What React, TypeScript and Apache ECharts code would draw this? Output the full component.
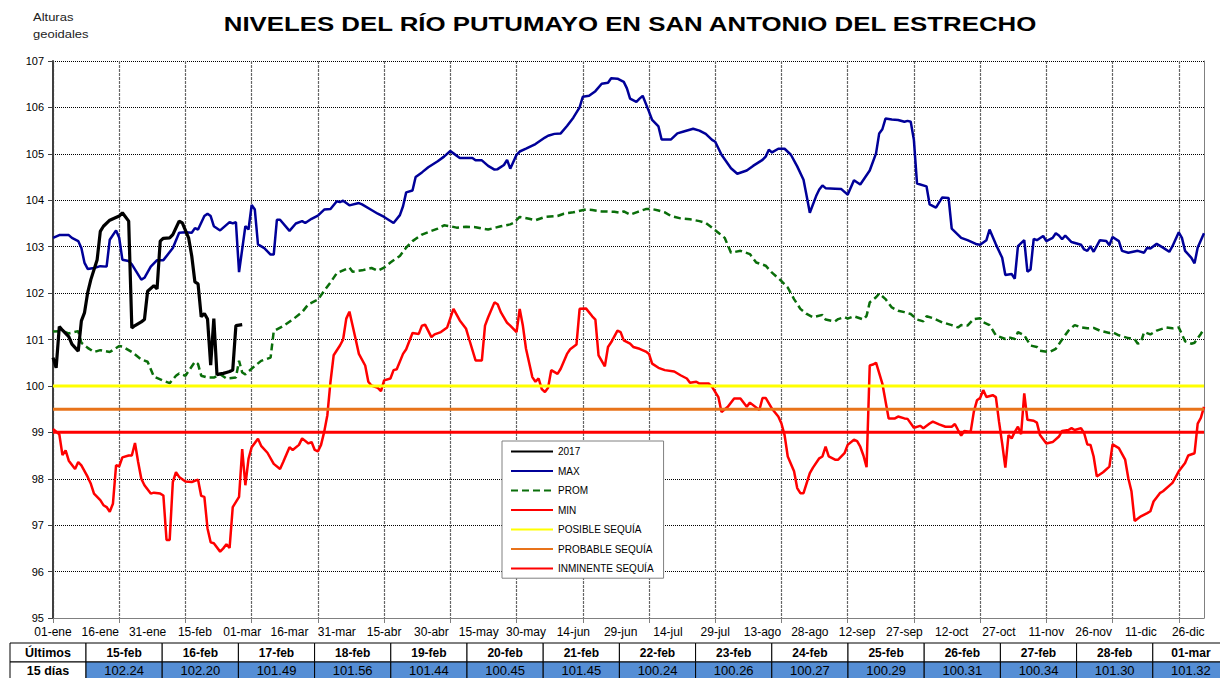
import React, { useEffect, useRef } from "react";
import * as echarts from "echarts";

// ---------- categories (leap-year calendar, one per day) ----------
const MONTHS = ["ene", "feb", "mar", "abr", "may", "jun", "jul", "ago", "sep", "oct", "nov", "dic"];
const MONTH_DAYS = [31, 29, 31, 30, 31, 30, 31, 31, 30, 31, 30, 31];
const DAYS: string[] = MONTHS.flatMap((m, i) =>
  Array.from({ length: MONTH_DAYS[i] }, (_, k) => `${String(k + 1).padStart(2, "0")}-${m}`)
);

// ---------- series: [day index, level] ----------
const S2017: [number, number][] = [
  [0, 100.61], [1, 100.39], [2, 101.28], [3, 101.2], [5, 101.06], [6, 100.9], [8, 100.75], [9, 101.4],
  [10, 101.58], [11, 102.01], [12, 102.29], [14, 102.72], [15, 103.33], [16, 103.44], [18, 103.57],
  [21, 103.66], [22, 103.73], [24, 103.55], [25, 101.25], [26, 101.3], [28, 101.38], [29, 101.43],
  [30, 102.04], [32, 102.16], [33, 102.09], [34, 103.12], [35, 103.18], [37, 103.19], [38, 103.26],
  [40, 103.55], [41, 103.51], [43, 103.19], [44, 102.8], [45, 102.24], [46, 102.2], [47, 101.49],
  [48, 101.56], [49, 101.44], [50, 100.45], [51, 101.45], [52, 100.24], [53, 100.26], [54, 100.27],
  [55, 100.29], [56, 100.31], [57, 100.34], [58, 101.3], [60, 101.32],
];

const MAX: [number, number][] = [
  [0, 103.19], [2, 103.25], [5, 103.25], [6, 103.19], [8, 103.12], [9, 102.97], [10, 102.65], [11, 102.52],
  [13, 102.54], [15, 102.58], [17, 102.57], [18, 103.15], [20, 103.35], [21, 103.19], [22, 102.72],
  [24, 102.69], [25, 102.62], [28, 102.29], [29, 102.33], [31, 102.57], [33, 102.71], [35, 102.71],
  [38, 102.97], [40, 103.3], [42, 103.31], [44, 103.3], [45, 103.4], [46, 103.37], [48, 103.66],
  [49, 103.71], [50, 103.66], [51, 103.44], [53, 103.35], [56, 103.53], [57, 103.5], [58, 103.53],
  [59, 102.45], [61, 103.44], [62, 103.37], [63, 103.9], [64, 103.8], [65, 103.05], [67, 102.97],
  [69, 102.83], [70, 102.83], [71, 103.58], [72, 103.58], [75, 103.34], [77, 103.5], [79, 103.55],
  [80, 103.51], [82, 103.6], [84, 103.67], [86, 103.8], [88, 103.81], [90, 103.98], [91, 103.96],
  [92, 103.99], [94, 103.89], [97, 103.94], [98, 103.91], [101, 103.79], [103, 103.71], [105, 103.64],
  [108, 103.51], [110, 103.68], [111, 103.87], [112, 104.17], [114, 104.21], [115, 104.5], [117, 104.6],
  [119, 104.71], [122, 104.84], [124, 104.94], [126, 105.06], [127, 105.01], [129, 104.91], [131, 104.91],
  [133, 104.91], [134, 104.86], [136, 104.86], [138, 104.74], [140, 104.66], [141, 104.67], [143, 104.76],
  [144, 104.87], [145, 104.68], [147, 104.98], [148, 105.05], [150, 105.11], [153, 105.21], [156, 105.35],
  [157, 105.39], [159, 105.43], [161, 105.44], [163, 105.6], [165, 105.78], [167, 106.0], [168, 106.23],
  [170, 106.25], [172, 106.35], [174, 106.51], [176, 106.53], [177, 106.63], [179, 106.62], [181, 106.55],
  [182, 106.41], [183, 106.19], [185, 106.12], [186, 106.19], [187, 106.25], [189, 105.91], [190, 105.73],
  [192, 105.59], [193, 105.31], [196, 105.31], [198, 105.44], [200, 105.48], [203, 105.54], [205, 105.5],
  [207, 105.43], [209, 105.3], [210, 105.26], [212, 104.98], [215, 104.69], [217, 104.57], [220, 104.64],
  [222, 104.74], [225, 104.87], [226, 104.94], [227, 105.09], [228, 105.03], [230, 105.11], [232, 105.11],
  [234, 104.98], [236, 104.73], [238, 104.44], [239, 104.09], [240, 103.73], [242, 104.09], [243, 104.23],
  [244, 104.32], [245, 104.26], [248, 104.25], [250, 104.24], [252, 104.12], [254, 104.43], [256, 104.34],
  [259, 104.64], [261, 105.01], [262, 105.44], [263, 105.53], [264, 105.76], [266, 105.74], [268, 105.73],
  [270, 105.69], [271, 105.71], [272, 105.69], [273, 105.3], [274, 104.36], [277, 104.3], [278, 103.91],
  [280, 103.84], [282, 104.06], [284, 104.05], [285, 103.39], [288, 103.19], [290, 103.14], [293, 103.05],
  [294, 103.04], [296, 103.14], [297, 103.37], [299, 103.05], [301, 102.76], [302, 102.39], [304, 102.41],
  [305, 102.31], [306, 103.01], [308, 103.14], [309, 102.46], [310, 102.51], [311, 103.17], [312, 103.14],
  [314, 103.23], [315, 103.12], [317, 103.19], [318, 103.29], [319, 103.24], [320, 103.16], [321, 103.24],
  [323, 103.1], [326, 103.04], [327, 102.94], [328, 102.91], [329, 103.01], [330, 102.89], [332, 103.14],
  [334, 103.12], [335, 103.03], [336, 103.21], [338, 103.12], [339, 102.91], [341, 102.87], [344, 102.91],
  [346, 102.87], [347, 102.98], [348, 102.96], [350, 103.06], [352, 102.98], [354, 102.89], [355, 103.01],
  [357, 103.31], [358, 103.19], [359, 102.91], [361, 102.76], [362, 102.64], [363, 102.98], [365, 103.29],
];

const PROM: [number, number][] = [
  [0, 101.17], [3, 101.18], [5, 101.13], [8, 101.18], [9, 100.93], [11, 100.82], [13, 100.73], [15, 100.77],
  [18, 100.73], [21, 100.86], [22, 100.85], [25, 100.73], [28, 100.57], [30, 100.52], [32, 100.2],
  [35, 100.11], [37, 100.06], [39, 100.22], [40, 100.27], [42, 100.22], [43, 100.32], [45, 100.52],
  [46, 100.47], [47, 100.22], [49, 100.18], [51, 100.18], [53, 100.25], [55, 100.16], [58, 100.18],
  [59, 100.54], [60, 100.29], [61, 100.25], [64, 100.43], [66, 100.54], [69, 100.61], [70, 101.18],
  [73, 101.29], [76, 101.43], [79, 101.59], [81, 101.76], [84, 101.86], [86, 102.05], [88, 102.23],
  [90, 102.43], [92, 102.49], [94, 102.55], [95, 102.46], [98, 102.49], [101, 102.54], [103, 102.48],
  [105, 102.55], [107, 102.66], [110, 102.8], [112, 102.98], [114, 103.12], [117, 103.26], [120, 103.34],
  [122, 103.39], [124, 103.46], [126, 103.44], [128, 103.41], [131, 103.43], [134, 103.42], [136, 103.39],
  [138, 103.37], [142, 103.44], [145, 103.48], [146, 103.51], [148, 103.64], [151, 103.6], [153, 103.57],
  [156, 103.64], [160, 103.66], [162, 103.71], [165, 103.74], [169, 103.8], [171, 103.79], [174, 103.76],
  [178, 103.75], [180, 103.73], [181, 103.76], [183, 103.69], [185, 103.74], [188, 103.81], [190, 103.81],
  [192, 103.78], [194, 103.74], [196, 103.66], [199, 103.61], [202, 103.59], [205, 103.55], [207, 103.51],
  [209, 103.41], [211, 103.3], [213, 103.19], [215, 102.87], [218, 102.91], [221, 102.84], [223, 102.66],
  [226, 102.59], [228, 102.44], [231, 102.26], [233, 102.12], [235, 101.87], [237, 101.66], [239, 101.55],
  [241, 101.48], [244, 101.53], [245, 101.43], [248, 101.39], [249, 101.44], [251, 101.48], [252, 101.45],
  [254, 101.5], [257, 101.43], [258, 101.51], [259, 101.8], [261, 101.91], [262, 101.99], [264, 101.87],
  [266, 101.69], [268, 101.62], [270, 101.59], [272, 101.55], [274, 101.43], [276, 101.39], [277, 101.5],
  [279, 101.46], [282, 101.37], [285, 101.31], [287, 101.26], [288, 101.31], [290, 101.3], [292, 101.44],
  [294, 101.46], [295, 101.37], [297, 101.31], [299, 101.09], [302, 101.01], [303, 101.05], [305, 101.01],
  [306, 101.16], [308, 101.09], [310, 100.87], [312, 100.84], [313, 100.76], [316, 100.73], [318, 100.8],
  [320, 101.0], [322, 101.19], [324, 101.31], [326, 101.26], [328, 101.24], [330, 101.25], [332, 101.19],
  [335, 101.14], [336, 101.16], [338, 101.09], [341, 101.03], [343, 101.01], [344, 100.91], [345, 100.94],
  [346, 101.16], [348, 101.11], [350, 101.19], [353, 101.26], [355, 101.24], [357, 101.26], [359, 100.96],
  [361, 100.91], [362, 100.93], [364, 101.12], [365, 101.23],
];

const MIN: [number, number][] = [
  [0, 99.07], [2, 98.96], [3, 98.51], [4, 98.61], [5, 98.39], [7, 98.21], [8, 98.36], [9, 98.29], [11, 98.04],
  [12, 97.89], [13, 97.68], [15, 97.54], [16, 97.43], [17, 97.39], [18, 97.29], [19, 97.46], [20, 98.29],
  [21, 98.27], [22, 98.46], [24, 98.5], [25, 98.5], [26, 98.77], [27, 98.36], [28, 98.0], [29, 97.86],
  [31, 97.68], [32, 97.7], [34, 97.68], [35, 97.64], [36, 96.68], [37, 96.68], [38, 97.93], [39, 98.14],
  [40, 98.04], [42, 97.94], [44, 97.93], [46, 97.98], [47, 97.63], [48, 97.61], [49, 96.93], [50, 96.63],
  [51, 96.61], [53, 96.43], [54, 96.5], [55, 96.59], [56, 96.51], [57, 97.39], [59, 97.61], [60, 98.64],
  [61, 97.86], [62, 98.43], [63, 98.68], [65, 98.86], [66, 98.71], [68, 98.56], [70, 98.32], [72, 98.21],
  [73, 98.36], [75, 98.68], [76, 98.62], [78, 98.73], [79, 98.87], [81, 98.76], [82, 98.79], [83, 98.62],
  [84, 98.59], [85, 98.73], [86, 99.01], [87, 99.37], [88, 100.09], [89, 100.66], [91, 100.87], [92, 101.0],
  [93, 101.45], [94, 101.6], [95, 101.3], [96, 101.0], [97, 100.69], [99, 100.44], [100, 100.09],
  [101, 100.01], [103, 99.96], [104, 99.89], [105, 100.12], [107, 100.16], [108, 100.34], [109, 100.36],
  [111, 100.69], [112, 100.79], [114, 101.14], [116, 101.12], [117, 101.3], [118, 101.32], [120, 101.05],
  [121, 101.11], [123, 101.16], [125, 101.26], [127, 101.66], [129, 101.41], [131, 101.23], [132, 101.0],
  [134, 100.55], [136, 100.55], [137, 101.3], [138, 101.48], [140, 101.8], [141, 101.76], [142, 101.59],
  [144, 101.36], [145, 101.3], [147, 101.16], [148, 101.66], [149, 101.3], [150, 100.8], [152, 100.19],
  [153, 100.09], [154, 100.16], [155, 99.93], [156, 99.87], [157, 99.96], [158, 100.34], [160, 100.26],
  [161, 100.37], [163, 100.69], [164, 100.79], [166, 100.89], [167, 101.66], [169, 101.67], [171, 101.5],
  [172, 101.43], [173, 100.66], [175, 100.42], [176, 100.84], [177, 100.94], [179, 101.19], [180, 101.16],
  [181, 100.98], [183, 100.91], [184, 100.84], [186, 100.8], [188, 100.74], [189, 100.69], [190, 100.48],
  [192, 100.39], [194, 100.34], [197, 100.31], [199, 100.23], [201, 100.16], [202, 100.07], [204, 100.09],
  [205, 100.05], [208, 100.05], [209, 99.98], [211, 99.76], [212, 99.44], [214, 99.55], [216, 99.73],
  [218, 99.73], [220, 99.55], [221, 99.64], [224, 99.48], [225, 99.74], [226, 99.74], [228, 99.51],
  [230, 99.34], [231, 99.19], [232, 98.94], [233, 98.48], [235, 98.16], [236, 97.8], [237, 97.69],
  [238, 97.69], [240, 98.12], [241, 98.24], [243, 98.44], [244, 98.48], [245, 98.69], [246, 98.48],
  [248, 98.41], [249, 98.41], [251, 98.55], [252, 98.73], [254, 98.84], [255, 98.81], [256, 98.69],
  [257, 98.5], [258, 98.25], [259, 100.44], [260, 100.46], [261, 100.5], [263, 100.05], [265, 99.3],
  [267, 99.3], [268, 99.34], [270, 99.3], [271, 99.29], [273, 99.1], [275, 99.14], [276, 99.09],
  [278, 99.19], [279, 99.23], [281, 99.17], [283, 99.12], [285, 99.12], [286, 99.18], [287, 99.05],
  [288, 98.93], [289, 99.03], [291, 99.01], [292, 99.44], [293, 99.69], [294, 99.74], [295, 99.91],
  [296, 99.76], [298, 99.8], [299, 99.76], [300, 99.23], [301, 98.76], [302, 98.24], [303, 98.94],
  [304, 98.87], [305, 99.01], [306, 99.12], [307, 98.96], [308, 99.84], [309, 99.27], [311, 99.25],
  [312, 99.21], [313, 98.94], [315, 98.76], [317, 98.79], [319, 98.91], [320, 99.03], [322, 99.05],
  [323, 99.09], [324, 99.05], [326, 99.09], [327, 98.98], [328, 98.74], [329, 98.73], [330, 98.48],
  [331, 98.05], [333, 98.14], [335, 98.26], [336, 98.74], [338, 98.66], [340, 98.41], [341, 98.01],
  [342, 97.73], [343, 97.09], [345, 97.19], [347, 97.26], [348, 97.3], [349, 97.51], [351, 97.69],
  [352, 97.73], [355, 97.91], [357, 98.16], [359, 98.34], [360, 98.5], [362, 98.55], [363, 99.19],
  [364, 99.31], [365, 99.55],
];

// ---------- thresholds ----------
const POSIBLE_SEQUIA = 100;
const PROBABLE_SEQUIA = 99.5;
const INMINENTE_SEQUIA = 99;

// ---------- bottom table ----------
const TABLE_DATES = ["15-feb", "16-feb", "17-feb", "18-feb", "19-feb", "20-feb", "21-feb", "22-feb",
  "23-feb", "24-feb", "25-feb", "26-feb", "27-feb", "28-feb", "01-mar"];
const TABLE_VALUES = [102.24, 102.2, 101.49, 101.56, 101.44, 100.45, 101.45, 100.24, 100.26, 100.27,
  100.29, 100.31, 100.34, 101.3, 101.32];

const FONT = '"Liberation Sans", Arial, Helvetica, sans-serif';

function buildTable(): any[] {
  const els: any[] = [];
  const top = 643;
  const rowH = 19;
  const firstLeft = 10;
  const firstW = 76;
  const colW = 76.2;
  const border = { stroke: "#000", lineWidth: 1 };
  const headY = top + rowH / 2 + 0.5;
  const valY = top + rowH + 8.5;
  els.push({ type: "rect", shape: { x: firstLeft, y: top, width: firstW, height: rowH }, style: { fill: "#fff", ...border } });
  els.push({ type: "rect", shape: { x: firstLeft, y: top + rowH, width: firstW, height: rowH }, style: { fill: "#fff", ...border } });
  els.push({ type: "text", x: firstLeft + firstW / 2, y: headY, style: { text: "Últimos", fontSize: 12.5, fontWeight: "bold", fontFamily: FONT, fill: "#000", align: "center", verticalAlign: "middle" } });
  els.push({ type: "text", x: firstLeft + firstW / 2, y: valY, style: { text: "15 días", fontSize: 12.5, fontWeight: "bold", fontFamily: FONT, fill: "#000", align: "center", verticalAlign: "middle" } });
  TABLE_DATES.forEach((d, i) => {
    const x = firstLeft + firstW + i * colW;
    els.push({ type: "rect", shape: { x, y: top, width: colW, height: rowH }, style: { fill: "#fff", ...border } });
    els.push({ type: "rect", shape: { x, y: top + rowH, width: colW, height: rowH }, style: { fill: "#558ED5", ...border } });
    els.push({ type: "text", x: x + colW / 2, y: headY, style: { text: d, fontSize: 12, fontWeight: "bold", fontFamily: FONT, fill: "#000", align: "center", verticalAlign: "middle" } });
    els.push({ type: "text", x: x + colW / 2, y: valY, style: { text: TABLE_VALUES[i].toFixed(2), fontSize: 13, fontFamily: FONT, fill: "#000", align: "center", verticalAlign: "middle" } });
  });
  return els;
}

export default function App() {
  const ref = useRef<HTMLDivElement>(null);

  useEffect(() => {
    document.body.style.margin = "0";
    if (!ref.current) return;
    const chart = echarts.init(ref.current, null, { renderer: "svg" });
    const last = DAYS.length - 1;
    const lineSeries = (name: string, data: any, color: string, width: number, type: any = "solid", z = 2) => ({
      name,
      type: "line",
      data,
      symbol: "none",
      showSymbol: false,
      z,
      lineStyle: { color, width, type },
      itemStyle: { color },
      emphasis: { disabled: true },
    });
    const option: any = {
      animation: false,
      backgroundColor: "#fff",
      textStyle: { fontFamily: FONT },
      grid: { left: 53, right: 16, top: 61, bottom: 60, containLabel: false },
      legend: {
        orient: "vertical",
        left: 502,
        top: 441,
        itemWidth: 42,
        itemHeight: 14,
        itemGap: 8.3,
        padding: [5, 10, 4, 8],
        backgroundColor: "#fff",
        borderColor: "#808080",
        borderWidth: 1,
        borderRadius: 0,
        selectedMode: false,
        itemStyle: { color: "rgba(0,0,0,0)", borderColor: "rgba(0,0,0,0)", borderWidth: 0, opacity: 0 },
        textStyle: { fontSize: 10, color: "#000", fontFamily: FONT },
        data: ["2017", "MAX", "PROM", "MIN", "POSIBLE SEQUÍA", "PROBABLE SEQUÍA", "INMINENTE SEQUÍA"],
      },
      xAxis: {
        type: "category",
        data: DAYS,
        boundaryGap: false,
        axisLine: { lineStyle: { color: "#808080", width: 1 } },
        axisTick: { show: true, interval: 20, length: 5, lineStyle: { color: "#808080" } },
        axisLabel: { interval: 14, fontSize: 12, color: "#000", margin: 8, fontFamily: FONT },
        splitLine: { show: true, interval: 20, lineStyle: { color: "#666", width: 1.2, type: [3, 1] } },
      },
      yAxis: [
        {
          type: "value",
          min: 95,
          max: 107,
          interval: 1,
          axisLine: { show: true, lineStyle: { color: "#404040", width: 2 } },
          axisTick: { show: true, length: 5, lineStyle: { color: "#404040" } },
          axisLabel: { fontSize: 11, color: "#000", margin: 9, fontFamily: FONT },
          splitLine: { show: true, lineStyle: { color: "#000", width: 1, type: [1, 1] } },
        },
        {
          type: "value",
          min: 95,
          max: 107,
          interval: 1,
          position: "right",
          axisLine: { show: true, lineStyle: { color: "#808080", width: 1 } },
          axisTick: { show: false },
          axisLabel: { show: false },
          splitLine: { show: false },
        },
      ],
      graphic: [
        { type: "text", x: 630, y: 24, scaleX: 1.23, style: { text: "NIVELES DEL RÍO PUTUMAYO EN SAN ANTONIO DEL ESTRECHO", fontSize: 21, fontWeight: "bold", fontFamily: FONT, fill: "#000", align: "center", verticalAlign: "middle" } },
        { type: "text", x: 33, y: 18, scaleX: 1.3, style: { text: "Alturas", fontSize: 10, fontFamily: FONT, fill: "#222", align: "left", verticalAlign: "middle" } },
        { type: "text", x: 33, y: 35, scaleX: 1.3, style: { text: "geoidales", fontSize: 10, fontFamily: FONT, fill: "#222", align: "left", verticalAlign: "middle" } },
        ...buildTable(),
      ],
      series: [
        lineSeries("2017", S2017, "#000000", 3.2, "solid", 5),
        lineSeries("MAX", MAX, "#000099", 2.5),
        lineSeries("PROM", PROM, "#0A6E0A", 2.5, [7, 4]),
        lineSeries("MIN", MIN, "#FF0000", 2.5),
        lineSeries("POSIBLE SEQUÍA", [[0, POSIBLE_SEQUIA], [last, POSIBLE_SEQUIA]], "#FFFF00", 3),
        lineSeries("PROBABLE SEQUÍA", [[0, PROBABLE_SEQUIA], [last, PROBABLE_SEQUIA]], "#E8731A", 3),
        lineSeries("INMINENTE SEQUÍA", [[0, INMINENTE_SEQUIA], [last, INMINENTE_SEQUIA]], "#FF0000", 3),
      ],
    };
    chart.setOption(option);
    return () => chart.dispose();
  }, []);

  return <div ref={ref} style={{ width: 1220, height: 678 }} />;
}
